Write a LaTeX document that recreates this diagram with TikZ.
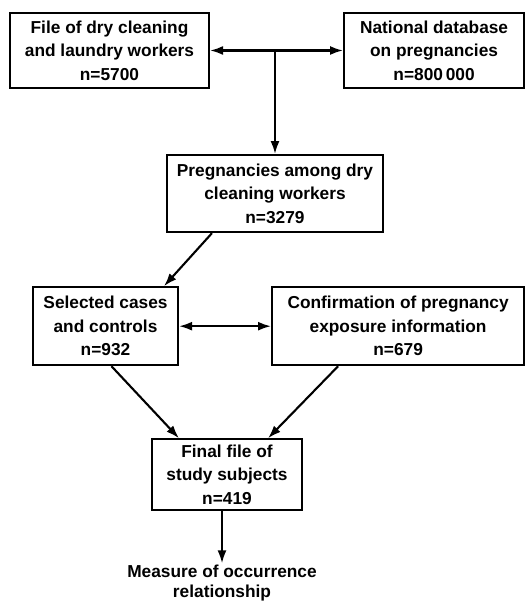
\documentclass[tikz,border=0pt]{standalone}
\usepackage{fontspec}
\setmainfont{Liberation Sans}
\usepackage{tikz}
\usetikzlibrary{arrows.meta,positioning,calc}

\begin{document}
\begin{tikzpicture}[font=\fontsize{17.3}{23.5}\selectfont\bfseries, node distance=3mm,
    box/.style={draw, line width=2.1pt, align=center, inner sep=2pt},
    flow/.style={line width=2.1pt, -{Latex[length=13pt,width=9pt]}},
    both/.style={line width=2.1pt, {Latex[length=13pt,width=9pt]}-{Latex[length=13pt,width=9pt]}}]
  \useasboundingbox (0,0) rectangle (525pt,601pt);
  \node (workers) [box, minimum width=199pt, minimum height=75pt] at (109.5pt,550.5pt)
    {File of dry cleaning\\ and laundry workers\\ n=5700};
  \node (natdb) [box, minimum width=180pt, minimum height=75pt, right=133pt of workers]
    {National database\\ on pregnancies\\ n=800\,000};
  \node (preg) [box, minimum width=216pt, minimum height=77pt, below=65pt of workers, xshift=165.5pt]
    {Pregnancies among dry\\ cleaning workers\\ n=3279};
  \node (cases) [box, minimum width=145pt, minimum height=78pt, below=53pt of preg, xshift=-169.5pt]
    {Selected cases\\ and controls\\ n=932};
  \node (confirm) [box, minimum width=252pt, minimum height=78pt, right=92pt of cases]
    {Confirmation of pregnancy\\ exposure information\\ n=679};
  \node (final) [box, minimum width=150pt, minimum height=71pt, below=72pt of cases, xshift=121.5pt]
    {Final file of\\ study subjects\\ n=419};
  \node (measure) [below=52pt of final, xshift=-5pt, align=center, inner sep=1pt,
                   font=\fontsize{17.3}{20}\selectfont\bfseries]
    {Measure of occurrence\\ relationship};
  \coordinate (split) at (preg.north |- workers.east);
  \draw[both] (workers) -- (natdb);
  \draw[flow] (split) -- (preg);
  \draw[flow] ([xshift=46pt]preg.south west) -- ([xshift=-15pt]cases.north east);
  \draw[both] (cases) -- (confirm);
  \draw[flow] ([xshift=6pt]cases.south) -- ([xshift=28pt]final.north west);
  \draw[flow] ([xshift=67pt]confirm.south west) -- ([xshift=-35pt]final.north east);
  \draw[flow] (final.south -| measure.north) -- (measure);
\end{tikzpicture}
\end{document}
